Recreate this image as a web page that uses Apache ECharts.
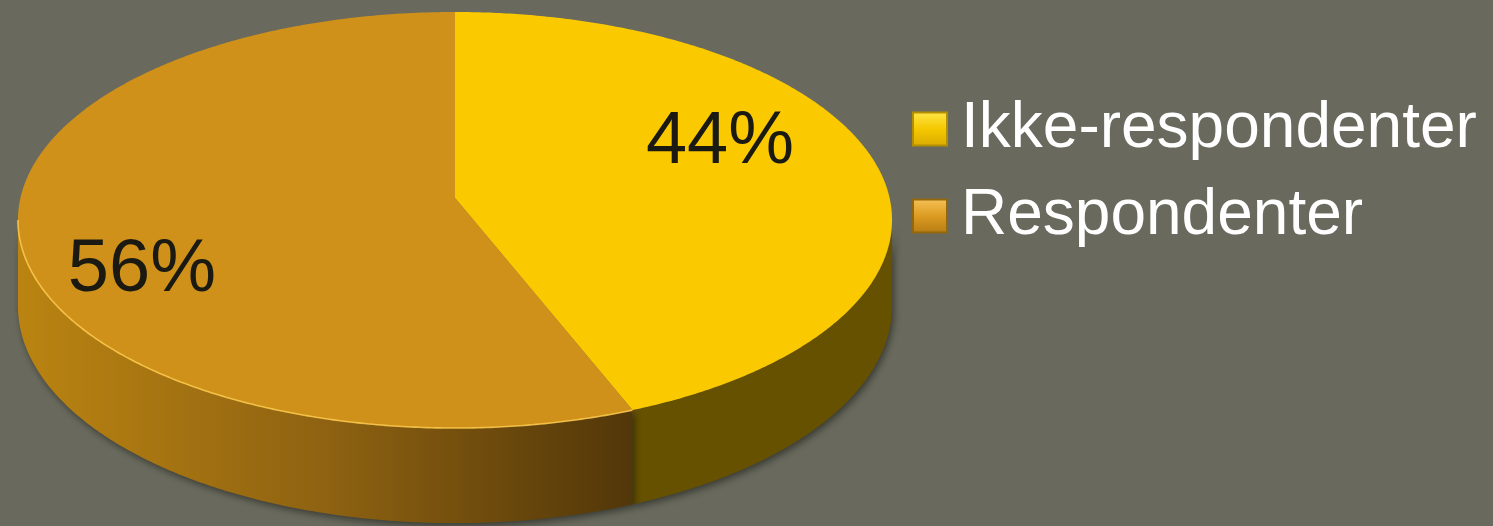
<!DOCTYPE html>
<html>
<head>
<meta charset="utf-8">
<script src="https://cdn.jsdelivr.net/npm/echarts@6/dist/echarts.min.js"></script>
<style>
  html, body { margin: 0; padding: 0; background: #696a5d; }
  #chart { width: 1493px; height: 526px; }
</style>
</head>
<body>
<div id="chart"></div>
<script>
// Survey response split
const categories = ['Ikke-respondenter', 'Respondenter'];
const shares = [44, 56];

// Look of each slice: top face, side wall, rim highlight, legend swatch
const topColors = ['#fac900', '#cf9119'];
const sideFills = [
  '#665100',
  new echarts.graphic.LinearGradient(0, 0, 1, 0, [
    { offset: 0, color: '#bb8411' },
    { offset: 0.5, color: '#8e6211' },
    { offset: 1, color: '#523709' }
  ])
];
const rimColors = [null, 'rgba(255, 204, 80, 0.85)'];
const labelNudge = [[-9, -31], [-32, 47]];
const legendSwatches = [
  { color: new echarts.graphic.LinearGradient(0, 0, 0, 1, [
      { offset: 0, color: '#ffe64a' }, { offset: 0.5, color: '#f5c800' }, { offset: 1, color: '#d9ab00' }]),
    borderColor: '#b38f00', borderWidth: 2 },
  { color: new echarts.graphic.LinearGradient(0, 0, 0, 1, [
      { offset: 0, color: '#f7c257' }, { offset: 0.5, color: '#dc9c22' }, { offset: 1, color: '#b57c12' }]),
    borderColor: '#94670f', borderWidth: 2 }
];

// Perspective disc: centre, half-axes, perspective factor, wall height
const geo = { cx: 455, cy: 198, a: 434.6, b: 205.7, k: 0.1058, depth: 85 };

const TAU = Math.PI * 2;
const total = shares.reduce((s, v) => s + v, 0);
const startAngles = [];
(function () {
  let acc = 0;
  shares.forEach(v => { startAngles.push(acc / total * TAU); acc += v; });
})();

// angle t runs clockwise from 12 o'clock; v > 0 is the far side of the disc
function project(u, v, drop) {
  const w = 1 + geo.k * v;
  return [geo.cx + geo.a * u / w, geo.cy + (drop - geo.b * v) / w];
}
function rim(t0, t1, drop) {
  const pts = [];
  const n = Math.max(2, Math.ceil((t1 - t0) / (Math.PI / 360)));
  for (let i = 0; i <= n; i++) {
    const t = t0 + (t1 - t0) * i / n;
    pts.push(project(Math.sin(t), Math.cos(t), drop));
  }
  return pts;
}
const silStart = Math.acos(-geo.k);
const silEnd = TAU - silStart;

function makeRenderer(idx) {
  return function (params, api) {
    const value = api.value(0);
    const t0 = startAngles[idx];
    const t1 = t0 + value / total * TAU;
    const children = [];

    // side wall, only where it faces the viewer
    const s0 = Math.max(t0, silStart), s1 = Math.min(t1, silEnd);
    if (s1 > s0) {
      const upper = rim(s0, s1, 0);
      const lower = rim(s0, s1, geo.depth).reverse();
      children.push({
        type: 'polygon',
        shape: { points: upper.concat(lower) },
        style: {
          fill: sideFills[idx],
          shadowColor: 'rgba(0,0,0,0.45)', shadowBlur: 7,
          shadowOffsetX: 2, shadowOffsetY: 3
        },
        z2: 1
      });
    }

    // top face
    children.push({
      type: 'polygon',
      shape: { points: [project(0, 0, 0)].concat(rim(t0, t1, 0)) },
      style: { fill: topColors[idx] },
      z2: 10
    });

    if (rimColors[idx] && s1 > s0) {
      children.push({
        type: 'polyline',
        shape: { points: rim(s0, s1, 0) },
        style: { stroke: rimColors[idx], lineWidth: 1.6, fill: null },
        z2: 11
      });
    }

    // percentage label
    const mid = (t0 + t1) / 2;
    const p = project(0.65 * Math.sin(mid), 0.65 * Math.cos(mid), 0);
    children.push({
      type: 'text',
      x: p[0] + labelNudge[idx][0],
      y: p[1] + labelNudge[idx][1],
      style: {
        text: Math.round(value / total * 100) + '%',
        fill: '#1a1a12',
        font: '74px "Liberation Sans", Arial, sans-serif',
        align: 'center',
        verticalAlign: 'middle'
      },
      z2: 20
    });

    return { type: 'group', children: children };
  };
}

const chart = echarts.init(document.getElementById('chart'), null, { renderer: 'canvas' });
chart.setOption({
  backgroundColor: '#696a5d',
  animation: false,
  legend: {
    orient: 'vertical',
    left: 912,
    top: 97,
    padding: 0,
    icon: 'rect',
    itemWidth: 34,
    itemHeight: 33,
    itemGap: 23,
    selectedMode: false,
    textStyle: {
      color: '#ffffff',
      fontSize: 64,
      lineHeight: 64,
      fontFamily: '"Liberation Sans", Arial, sans-serif',
      padding: [0, 0, 0, 9]
    },
    data: categories.map((name, i) => ({ name: name, itemStyle: legendSwatches[i] }))
  },
  series: categories.map((name, i) => ({
    type: 'custom',
    name: name,
    coordinateSystem: 'none',
    silent: true,
    itemStyle: { color: topColors[i] },
    data: [shares[i]],
    renderItem: makeRenderer(i)
  }))
});
</script>
</body>
</html>
